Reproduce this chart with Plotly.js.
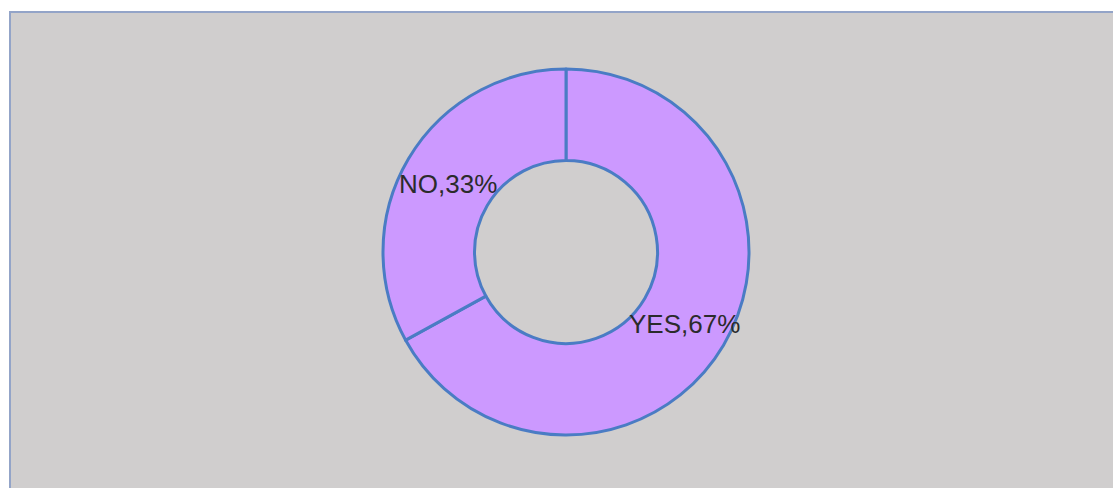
<!DOCTYPE html>
<html>
<head>
<meta charset="utf-8">
<script src="https://cdn.plot.ly/plotly-3.0.1.min.js"></script>
<style>
  html, body { margin: 0; padding: 0; background: #ffffff; width: 1113px; height: 488px; overflow: hidden; }
  #frame { position: absolute; left: 9px; top: 11px; width: 1102px; height: 475px;
           border-left: 2px solid #93a4c8; border-top: 2px solid #93a4c8; background: #d0cece; }
  #chart { width: 1102px; height: 475px; }
</style>
</head>
<body>
<div id="frame"><div id="chart"></div></div>
<script>
const categories = ["YES", "NO"];
const values = [67, 33];

const W = 1102, H = 475;
const domX = [372 / W, 738 / W];
const domY = [53 / H, 419 / H];
const holeFrac = 0.5;

const trace = {
  type: "pie",
  labels: categories,
  values: values,
  hole: holeFrac,
  sort: false,
  direction: "clockwise",
  rotation: 0,
  marker: { colors: ["#cc99ff", "#cc99ff"], line: { color: "#4a7cc4", width: 3 } },
  textinfo: "none",
  textposition: "none",
  hoverinfo: "label+percent",
  domain: { x: domX, y: domY },
  showlegend: false
};

// Label positions derived from the data: centre angle of each slice, at mid-ring radius.
const total = values.reduce((a, b) => a + b, 0);
const cxPx = (domX[0] + domX[1]) / 2 * W;
const cyPx = (domY[0] + domY[1]) / 2 * H;
const Rpx = Math.min((domX[1] - domX[0]) * W, (domY[1] - domY[0]) * H) / 2;
const rMid = Rpx * (1 + holeFrac) / 2;
let cum = 0;
const annotations = categories.map((c, i) => {
  const frac = (cum + values[i] / 2) / total;
  cum += values[i];
  const th = frac * 2 * Math.PI;
  return {
    xref: "paper", yref: "paper",
    x: (cxPx + rMid * Math.sin(th)) / W,
    y: (cyPx + rMid * Math.cos(th)) / H,
    yshift: -2,
    text: c + "," + Math.round(values[i] / total * 100) + "%",
    showarrow: false,
    xanchor: "center", yanchor: "middle",
    font: { family: "Liberation Sans, Arial, sans-serif", size: 26, color: "#2b2b2b" }
  };
});

Plotly.newPlot("chart", [trace], {
  width: W, height: H,
  margin: { l: 0, r: 0, t: 0, b: 0 },
  paper_bgcolor: "#d0cece",
  plot_bgcolor: "#d0cece",
  showlegend: false,
  annotations: annotations
}, { displayModeBar: false, staticPlot: true });
</script>
</body>
</html>
